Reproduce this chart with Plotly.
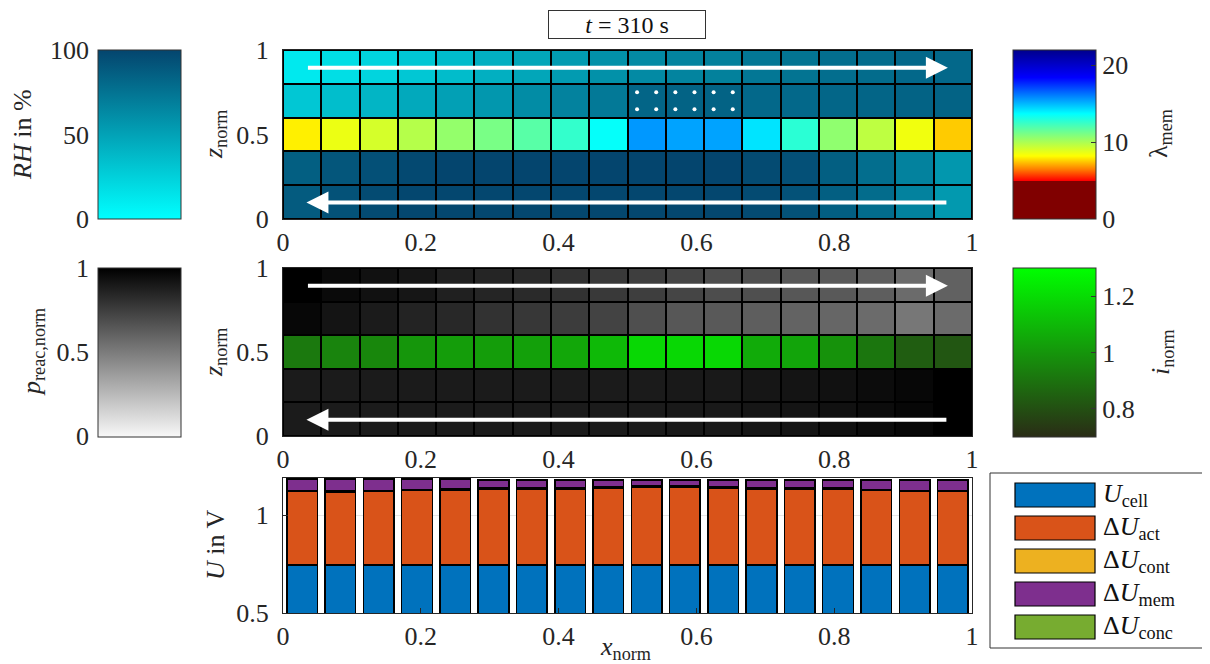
import numpy as np
import plotly.graph_objects as go

OFF = 8                     # page body margin of the html page
W, H = 1210 - OFF, 664 - OFF
FONT = "Liberation Serif"
FS = 26

# ---------------- data ----------------
n_cols = 18
x_norm = (np.arange(n_cols) + 0.5) / n_cols          # segment centres along the channel
z_norm = [0.1, 0.3, 0.5, 0.7, 0.9]                    # layer centres

# relative humidity in % (channel layers)
rh_z01 = [88, 93, 97, 99, 99, 99, 99, 99, 99, 99, 99, 99, 97, 93, 86, 79, 67, 55]
rh_z03 = [86, 91, 94, 98, 100, 100, 100, 100, 100, 100, 100, 100, 97, 94, 86, 78, 67, 56]
rh_z07 = [30, 35, 40, 46, 51, 56, 62, 67, 72, 83, 84, 84, 81, 81, 82, 83, 84, 84]
rh_z09 = [12, 18, 23, 30, 36, 43, 48, 54, 59, 63, 66, 68, 73, 75, 78, 79, 81, 81]
# membrane water content
lambda_mem = [8.0, 8.6, 9.1, 9.8, 10.5, 11.1, 11.8, 12.6, 13.6, 15.6, 15.4, 15.4, 14.2, 12.8, 10.6, 9.6, 8.5, 7.5]
# normalised reactant partial pressure (channel layers)
p_z01 = [0.89, 0.89, 0.89, 0.89, 0.89, 0.89, 0.89, 0.89, 0.89, 0.89, 0.90, 0.90, 0.91, 0.92, 0.93, 0.95, 0.97, 1.00]
p_z03 = [0.89, 0.89, 0.89, 0.89, 0.89, 0.89, 0.89, 0.89, 0.89, 0.89, 0.90, 0.90, 0.91, 0.92, 0.93, 0.95, 0.97, 1.00]
p_z07 = [0.97, 0.92, 0.89, 0.86, 0.84, 0.80, 0.78, 0.76, 0.73, 0.68, 0.65, 0.64, 0.62, 0.60, 0.59, 0.57, 0.52, 0.57]
p_z09 = [1.00, 0.96, 0.93, 0.91, 0.87, 0.85, 0.83, 0.80, 0.77, 0.75, 0.72, 0.69, 0.68, 0.65, 0.64, 0.62, 0.57, 0.61]
# normalised current density (membrane layer)
i_norm = [0.92, 0.95, 0.96, 1.00, 1.02, 1.02, 1.03, 1.05, 1.10, 1.19, 1.19, 1.19, 1.06, 1.04, 0.99, 0.91, 0.84, 0.82]
# segments flagged with liquid water (cathode layer z 0.6-0.8)
flagged_cols = [9, 10, 11]

# voltage breakdown per segment in V
U_cell = [0.746] * n_cols
dU_act = [0.376, 0.373, 0.376, 0.380, 0.383, 0.387, 0.387, 0.389, 0.394, 0.395, 0.396, 0.392, 0.389, 0.389, 0.387, 0.380, 0.378, 0.375]
dU_cont = [0.003, 0.004, 0.005, 0.005, 0.006, 0.006, 0.007, 0.007, 0.005, 0.008, 0.008, 0.008, 0.006, 0.005, 0.006, 0.003, 0.003, 0.002]
dU_mem = [0.058, 0.060, 0.056, 0.052, 0.048, 0.042, 0.041, 0.039, 0.036, 0.032, 0.031, 0.035, 0.040, 0.041, 0.042, 0.052, 0.054, 0.058]
dU_conc = [0.002] * n_cols

bar_names = ["<i>U</i><sub>cell</sub>", "Δ<i>U</i><sub>act</sub>", "Δ<i>U</i><sub>cont</sub>",
             "Δ<i>U</i><sub>mem</sub>", "Δ<i>U</i><sub>conc</sub>"]
bar_colors = ["#0072BD", "#D95319", "#EDB120", "#7E2F8E", "#77AC30"]

time_s = 310
arrow_x = (0.034, 0.965)
arrow_z = (0.895, 0.097)

# ---------------- helpers ----------------
def fx(px):
    return (px - OFF) / W

def fy(py):
    return 1 - (py - OFF) / H

none_row = [None] * n_cols
z_rh = [rh_z01, rh_z03, none_row, rh_z07, rh_z09]
z_lam = [none_row, none_row, lambda_mem, none_row, none_row]
z_p = [p_z01, p_z03, none_row, p_z07, p_z09]
z_i = [none_row, none_row, i_norm, none_row, none_row]

rh_scale = [[0, "rgb(0,255,255)"], [1, "rgb(4,69,110)"]]
lam_scale = [[0, "rgb(128,0,0)"], [4.95 / 22, "rgb(128,0,0)"], [5 / 22, "rgb(255,0,0)"],
             [6.5 / 22, "rgb(255,128,0)"], [8.2 / 22, "rgb(255,255,0)"], [13.7 / 22, "rgb(0,255,255)"],
             [18.4 / 22, "rgb(0,0,255)"], [1, "rgb(0,0,140)"]]
gray_scale = [[0, "rgb(248,248,248)"], [1, "rgb(0,0,0)"]]
green_scale = [[0, "rgb(42,44,22)"], [1, "rgb(0,255,0)"]]

tickfont = dict(family=FONT, size=FS, color="#262626")
titlefont = dict(family=FONT, size=FS, color="#262626")

def cbar(x_px, y_px, h_px, **kw):
    d = dict(x=fx(x_px), xanchor="left", y=fy(y_px), yanchor="top", xref="paper", yref="paper",
             thickness=83, thicknessmode="pixels", len=h_px, lenmode="pixels", xpad=0, ypad=0,
             outlinecolor="#333", outlinewidth=1, tickfont=tickfont)
    d.update(kw)
    return d

fig = go.Figure()

# top panel
fig.add_trace(go.Heatmap(x=x_norm, y=z_norm, z=z_rh, colorscale=rh_scale, zmin=0, zmax=100,
                         xgap=2, ygap=2, xaxis="x", yaxis="y",
                         colorbar=cbar(98, 50, 169, showticklabels=False, ticks="")))
fig.add_trace(go.Heatmap(x=x_norm, y=z_norm, z=z_lam, colorscale=lam_scale, zmin=0, zmax=22,
                         xgap=2, ygap=2, xaxis="x", yaxis="y",
                         colorbar=cbar(1013, 50, 169, tickvals=[0, 10, 20], ticks="inside", ticklen=5,
                                       tickcolor="#333")))
# flagged dots
dx, dy = [], []
for c in flagged_cols:
    for fxq in (0.25, 0.75):
        for fzq in (0.25, 0.75):
            dx.append((c + fxq) / n_cols)
            dy.append(0.6 + fzq * 0.2)
fig.add_trace(go.Scatter(x=dx, y=dy, mode="markers", marker=dict(color="white", size=4),
                         xaxis="x", yaxis="y", showlegend=False, hoverinfo="skip"))

# middle panel
fig.add_trace(go.Heatmap(x=x_norm, y=z_norm, z=z_p, colorscale=gray_scale, zmin=0, zmax=1,
                         xgap=2, ygap=2, xaxis="x2", yaxis="y2",
                         colorbar=cbar(98, 268, 169, showticklabels=False, ticks="")))
fig.add_trace(go.Heatmap(x=x_norm, y=z_norm, z=z_i, colorscale=green_scale, zmin=0.7, zmax=1.3,
                         xgap=2, ygap=2, xaxis="x2", yaxis="y2",
                         colorbar=cbar(1013, 268, 169, tickvals=[0.8, 1, 1.2], ticktext=["0.8", "1", "1.2"],
                                       ticks="inside", ticklen=5, tickcolor="#333")))

# bottom panel: stacked bars
for vals, name, col in zip([U_cell, dU_act, dU_cont, dU_mem, dU_conc], bar_names, bar_colors):
    fig.add_trace(go.Bar(x=x_norm, y=vals, name=name, showlegend=False,
                         marker=dict(color=col, line=dict(color="black", width=1.5)),
                         xaxis="x3", yaxis="y3"))

# dummy traces for left colour-bar axes
fig.add_trace(go.Scatter(x=[None], y=[None], xaxis="x4", yaxis="y4", showlegend=False))
fig.add_trace(go.Scatter(x=[None], y=[None], xaxis="x5", yaxis="y5", showlegend=False))

xdom = [fx(283), fx(972)]

def xax(anchor):
    return dict(domain=xdom, anchor=anchor, range=[0, 1], tickvals=[0, 0.2, 0.4, 0.6, 0.8, 1],
                showline=True, mirror=True, linecolor="#262626", linewidth=1, ticks="", showgrid=False,
                zeroline=False, tickfont=tickfont)

def yax(anchor, dom):
    return dict(domain=dom, anchor=anchor, range=[0, 1], tickvals=[0, 0.5, 1],
                showline=True, mirror=True, linecolor="#262626", linewidth=1, ticks="", showgrid=False,
                zeroline=False, tickfont=tickfont, ticklabelstandoff=8)

layout = dict(
    width=W, height=H, margin=dict(l=0, r=0, t=0, b=0, autoexpand=False),
    paper_bgcolor="white", plot_bgcolor="white",
    barmode="stack", bargap=0.2, showlegend=False,
    xaxis=xax("y"),
    yaxis=yax("x", [fy(219), fy(50)]),
    xaxis2=xax("y2"),
    yaxis2=yax("x2", [fy(436), fy(268)]),
    xaxis3=dict(xax("y3"), ticks="inside", ticklen=5, tickcolor="#262626"),
    yaxis3=dict(domain=[fy(613), fy(478)], anchor="x3", range=[0.5, 1.19], tickvals=[0.5, 1],
                showline=True, mirror=True, linecolor="#262626", linewidth=1, ticks="inside", ticklen=5,
                tickcolor="#262626", showgrid=True, gridcolor="#e6e6e6", zeroline=False, tickfont=tickfont,
                ticklabelstandoff=8),
    xaxis4=dict(domain=[fx(98), fx(181)], anchor="y4", visible=False, range=[0, 1]),
    yaxis4=dict(domain=[fy(219), fy(50)], anchor="x4", range=[0, 100], tickvals=[0, 50, 100],
                showline=False, showgrid=False, zeroline=False, ticks="", tickfont=tickfont,
                ticklabelstandoff=8),
    xaxis5=dict(domain=[fx(98), fx(181)], anchor="y5", visible=False, range=[0, 1]),
    yaxis5=dict(domain=[fy(436), fy(268)], anchor="x5", range=[0, 1], tickvals=[0, 0.5, 1],
                showline=False, showgrid=False, zeroline=False, ticks="", tickfont=tickfont,
                ticklabelstandoff=8),
)
fig.update_layout(**layout)

# black backdrop behind the heatmap cells (grid lines)
for xa, ya in (("x", "y"), ("x2", "y2")):
    fig.add_shape(type="rect", xref=f"{xa} domain", yref=f"{ya} domain", x0=0, x1=1, y0=0, y1=1,
                  fillcolor="black", line=dict(width=0), layer="below")

anns = []
# flow arrows
for xa, ya in (("x", "y"), ("x2", "y2")):
    anns.append(dict(x=arrow_x[1], y=arrow_z[0], ax=arrow_x[0], ay=arrow_z[0], xref=xa, yref=ya,
                     axref=xa, ayref=ya, text="", showarrow=True, arrowhead=2, arrowwidth=4,
                     arrowsize=1.1, arrowcolor="white", standoff=0))
    anns.append(dict(x=arrow_x[0], y=arrow_z[1], ax=arrow_x[1], ay=arrow_z[1], xref=xa, yref=ya,
                     axref=xa, ayref=ya, text="", showarrow=True, arrowhead=2, arrowwidth=4,
                     arrowsize=1.1, arrowcolor="white", standoff=0))

# time box
anns.append(dict(x=fx(627), y=fy(24.5), xref="paper", yref="paper", showarrow=False,
                 xanchor="center", yanchor="middle",
                 text=f"<i>t</i> = {time_s} s", font=dict(family=FONT, size=24, color="#111"),
                 bordercolor="#333", borderwidth=1, borderpad=1, width=154, height=25, bgcolor="white"))

# axis / colour-bar titles
def title_ann(text, x_px, y_px, angle=-90):
    return dict(x=fx(x_px), y=fy(y_px), xref="paper", yref="paper", showarrow=False, text=text,
                textangle=angle, xanchor="center", yanchor="middle", font=titlefont)

anns += [
    title_ann("<i>RH</i> in %", 22, 135),
    title_ann("<i>p</i><sub>reac,norm</sub>", 33, 352),
    title_ann("<i>z</i><sub>norm</sub>", 215, 134),
    title_ann("<i>z</i><sub>norm</sub>", 215, 352),
    title_ann("<i>U</i> in V", 215, 545),
    title_ann("λ<sub>mem</sub>", 1160, 134),
    title_ann("<i>i</i><sub>norm</sub>", 1162, 352),
    title_ann("<i>x</i><sub>norm</sub>", 625, 648, angle=0),
]

# legend (drawn as boxes + labels)
fig.add_shape(type="rect", xref="paper", yref="paper", x0=fx(990), x1=fx(1204), y0=fy(648), y1=fy(473),
              line=dict(color="#333", width=1), fillcolor="white")
for k, (name, col) in enumerate(zip(bar_names, bar_colors)):
    top = 483 + 33 * k
    fig.add_shape(type="rect", xref="paper", yref="paper", x0=fx(1015), x1=fx(1095),
                  y0=fy(top + 24), y1=fy(top), line=dict(color="black", width=1.2), fillcolor=col)
    anns.append(dict(x=fx(1101), y=fy(top + 12), xref="paper", yref="paper", showarrow=False,
                     text=name, xanchor="left", yanchor="middle",
                     font=dict(family=FONT, size=FS, color="#111")))

fig.update_layout(annotations=anns)

fig.write_html("out.html")
